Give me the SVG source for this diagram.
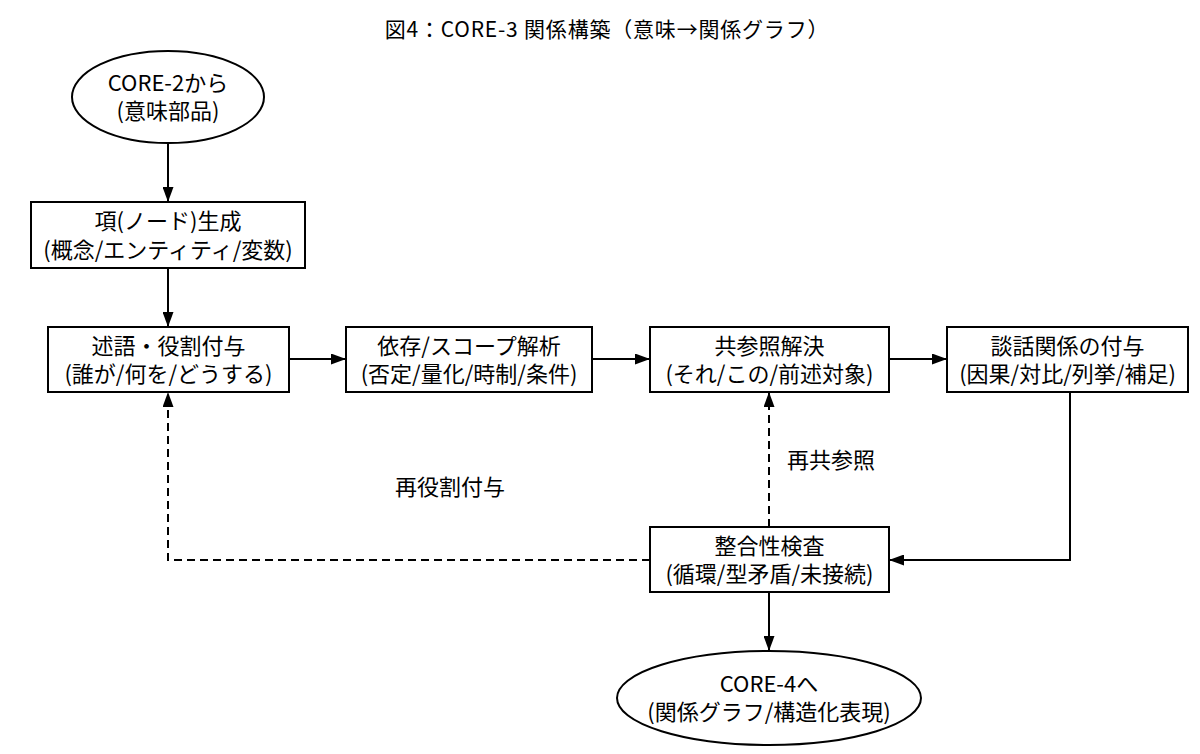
<svg xmlns="http://www.w3.org/2000/svg" width="1200" height="754" viewBox="0 0 1200 754">
<defs>
<marker id="ah" viewBox="0 0 15 11" refX="15" refY="5.5" markerWidth="15" markerHeight="11" markerUnits="userSpaceOnUse" orient="auto">
<path d="M0,0 L15,5.5 L0,11 Z" fill="#000"/>
</marker>
<style>
text{font-family:"Noto Sans CJK JP","Noto Sans",sans-serif;fill:#000;text-anchor:middle}
.t{font-size:22px}
.title{font-size:21px;letter-spacing:0.8px}
.n{fill:#fff;stroke:#000;stroke-width:2}
.c{fill:none;stroke:#000;stroke-width:2;marker-end:url(#ah)}
.d{stroke-dasharray:8,5}
</style>
</defs>
<rect width="1200" height="754" fill="#fff"/>
<text class="title" x="607" y="37">図4：CORE-3 関係構築（意味→関係グラフ）</text>
<g id="connectors">
<path class="c" d="M168,143 V202"/>
<path class="c" d="M168,268 V327"/>
<path class="c" d="M289,359 H346"/>
<path class="c" d="M592,359 H650"/>
<path class="c" d="M889,359 H947"/>
<path class="c" d="M1070,392 V560 H889"/>
<path class="c d" d="M769,527 V392"/>
<path class="c d" d="M650,560 H168 V392"/>
<path class="c" d="M769,592 V651"/>
<text class="t" x="831" y="468">再共参照</text>
<text class="t" x="450" y="495">再役割付与</text>
</g>
<g id="start">
<ellipse class="n" cx="168" cy="97" rx="96" ry="46"/>
<text class="t" x="168" y="90.5">CORE-2から</text>
<text class="t" x="168" y="119">(意味部品)</text>
</g>
<g id="node-term">
<rect class="n" x="31" y="202" width="274" height="66"/>
<text class="t" x="168" y="229">項(ノード)生成</text>
<text class="t" x="168" y="257.5">(概念/エンティティ/変数)</text>
</g>
<g id="node-predicate">
<rect class="n" x="48" y="327" width="241" height="65"/>
<text class="t" x="168.5" y="353.5">述語・役割付与</text>
<text class="t" x="168.5" y="382">(誰が/何を/どうする)</text>
</g>
<g id="node-dependency">
<rect class="n" x="346" y="327" width="246" height="65"/>
<text class="t" x="469" y="353.5">依存/スコープ解析</text>
<text class="t" x="469" y="382">(否定/量化/時制/条件)</text>
</g>
<g id="node-coref">
<rect class="n" x="650" y="327" width="239" height="65"/>
<text class="t" x="769.5" y="353.5">共参照解決</text>
<text class="t" x="769.5" y="382">(それ/この/前述対象)</text>
</g>
<g id="node-discourse">
<rect class="n" x="947" y="327" width="241" height="65"/>
<text class="t" x="1067.5" y="353.5">談話関係の付与</text>
<text class="t" x="1067.5" y="382">(因果/対比/列挙/補足)</text>
</g>
<g id="node-check">
<rect class="n" x="650" y="527" width="239" height="65"/>
<text class="t" x="769.5" y="553.5">整合性検査</text>
<text class="t" x="769.5" y="582">(循環/型矛盾/未接続)</text>
</g>
<g id="end">
<ellipse class="n" cx="769" cy="698" rx="152" ry="47"/>
<text class="t" x="769" y="691.5">CORE-4へ</text>
<text class="t" x="769" y="720">(関係グラフ/構造化表現)</text>
</g>
</svg>
